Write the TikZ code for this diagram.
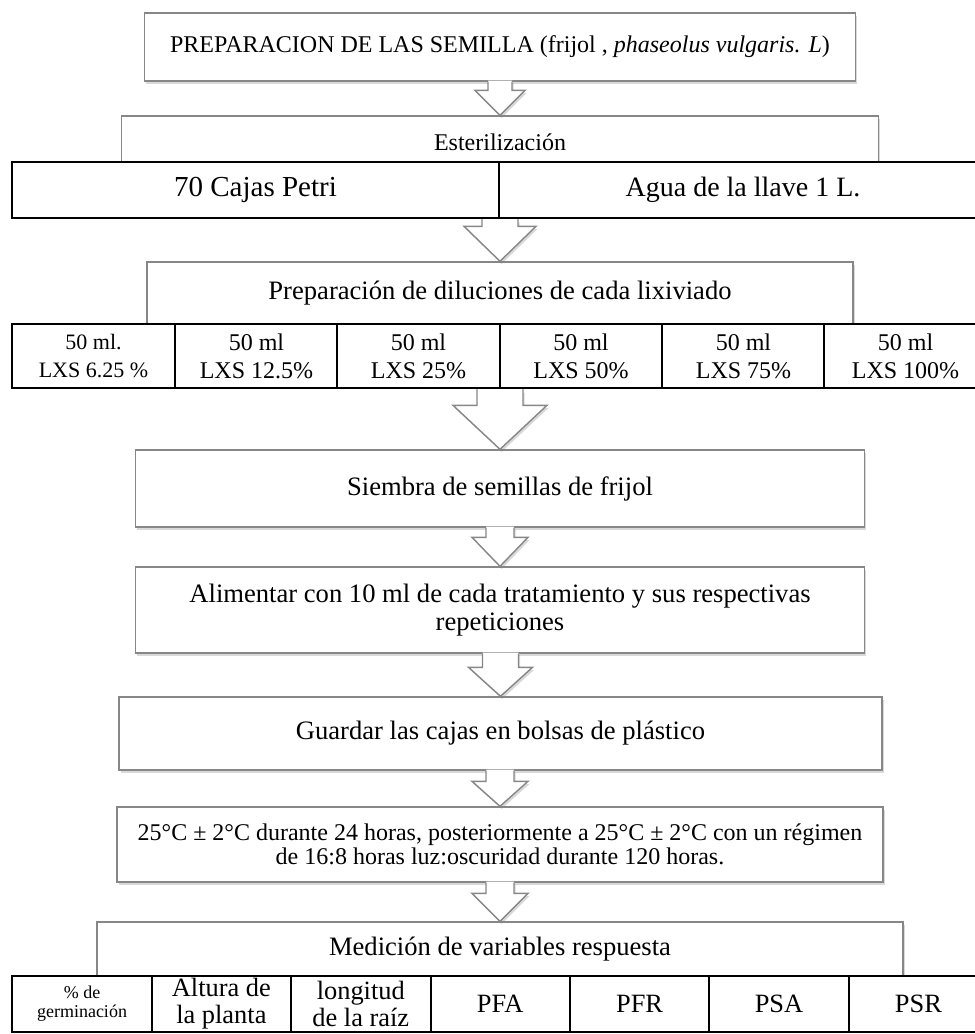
\documentclass[tikz,border=0pt]{standalone}
\usepackage{fontspec}
\setmainfont{Liberation Serif}
\usetikzlibrary{calc,shadows}

\definecolor{borde}{RGB}{135,135,135}

% flecha de bloque: [recorte] {desde} {hasta} {medio ancho tallo} {medio ancho punta} {largo punta}
\newcommand{\flecha}[6][0.6]{%
  \path[flechafondo] let \p1=(#2), \p2=(#3) in
    (\x2-#4pt,\y1+#1pt) -- (\x2-#4pt,\y2+#6pt) -- (\x2-#5pt,\y2+#6pt) -- (\x2,\y2)
    -- (\x2+#5pt,\y2+#6pt) -- (\x2+#4pt,\y2+#6pt) -- (\x2+#4pt,\y1+#1pt) -- cycle;
  \draw[flechaborde] let \p1=(#2), \p2=(#3) in
    (\x2-#4pt,\y1) -- (\x2-#4pt,\y2+#6pt) -- (\x2-#5pt,\y2+#6pt) -- (\x2,\y2)
    -- (\x2+#5pt,\y2+#6pt) -- (\x2+#4pt,\y2+#6pt) -- (\x2+#4pt,\y1);
}

\begin{document}
\begin{tikzpicture}[x=0.5pt,y=-0.5pt,
    caja/.style={draw=borde, line width=0.7pt, fill=white, inner sep=0pt, align=center,
      drop shadow={opacity=0.3, shadow xshift=0.8pt, shadow yshift=-1.3pt}},
    celda/.style={draw=black, line width=1pt, fill=white, inner sep=0pt, align=center},
    flechafondo/.style={fill=white, drop shadow={opacity=0.3, shadow xshift=0.8pt, shadow yshift=-1.3pt}},
    flechaborde/.style={draw=borde, line width=0.7pt, line join=miter},
    grande/.style={font=\fontsize{13.3}{14}\selectfont},
    normal/.style={font=\fontsize{12}{13}\selectfont}]
  \useasboundingbox (0,0) rectangle (975,1034);
  \clip (0,0) rectangle (975,1034);

  % cajas
  \node[caja, normal, minimum width=355.5pt, minimum height=34pt] (titulo) at (500,47)
    {PREPARACION DE LAS SEMILLA (frijol , \textit{phaseolus vulgaris. L})};
  \node[caja, minimum width=378.5pt, minimum height=44.5pt] (ester) at (500,160.5) {};
  \node[normal] (esterT) at (500,142) {Esterilización};
  \node[caja, minimum width=353pt, minimum height=59pt] (prep) at (500,321) {};
  \node[grande] (prepT) at (500,293) {Preparación de diluciones de cada lixiviado};
  \node[caja, grande, minimum width=364.5pt, minimum height=38.5pt] (siembra) at (500,488.5)
    {Siembra de semillas de frijol};
  \node[caja, grande, minimum width=364.5pt, minimum height=43pt] (alimentar) at (500,610)
    {Alimentar con 10 ml de cada tratamiento y sus respectivas\\repeticiones};
  \node[caja, grande, minimum width=381.5pt, minimum height=36.5pt] (guardar) at (500.5,733.5)
    {Guardar las cajas en bolsas de plástico};
  \node[caja, font=\fontsize{12}{10.5}\selectfont, minimum width=383pt, minimum height=37.5pt] (temp) at (500,844.5)
    {25°C ± 2°C durante 24 horas, posteriormente a 25°C ± 2°C con un régimen\\de 16:8 horas luz:oscuridad durante 120 horas.};
  \node[caja, minimum width=403pt, minimum height=49pt] (medicion) at (500,971) {};
  \node[grande] (medicionT) at (500,949) {Medición de variables respuesta};

  % tablas
  \node[celda, font=\fontsize{14.5}{16}\selectfont, minimum width=243.5pt, minimum height=28pt] (cA) at (255.5,190) {70 Cajas Petri};
  \node[celda, font=\fontsize{14}{16}\selectfont, minimum width=244pt, minimum height=28pt] (cB) at (743,190) {Agua de la llave 1 L.};

  \node[celda, font=\fontsize{11}{14}\selectfont, minimum width=81.5pt, minimum height=32pt] (d1) at (93.5,356) {50 ml.\\LXS 6.25 \%};
  \foreach \i/\cx/\txt in {2/256.5/12.5\%, 3/418.5/25\%, 4/581/50\%, 5/743.5/75\%, 6/905.5/100\%}
  {
    \node[celda, font=\fontsize{12}{14}\selectfont, minimum width=81.5pt, minimum height=32pt] (d\i) at (\cx,356) {50 ml\\LXS \txt};
  };

  \node[celda, font=\fontsize{9}{9.5}\selectfont, minimum width=69.7pt, minimum height=28pt] (v1) at (82,1004) {\% de\\germinación};
  \foreach \i/\txt in {2/Altura de\\la planta, 3/longitud\\de la raíz, 4/PFA, 5/PFR, 6/PSA, 7/PSR}
  {
    \node[celda, font=\fontsize{13.2}{13.5}\selectfont, minimum width=69.7pt, minimum height=28pt] (v\i) at ({82+139.4*(\i-1)},1004) {\txt};
  };

  % flechas
  \flecha{titulo.south}{ester.north}{6}{12.5}{12.5}
  \flecha[-0.5]{cA.south east}{prep.north}{9}{18}{17.5}
  \flecha[-0.5]{d3.south east}{siembra.north}{11.5}{23.5}{22}
  \flecha{siembra.south}{alimentar.north}{7}{14}{14.5}
  \flecha{alimentar.south}{guardar.north}{9}{16}{14.5}
  \flecha{guardar.south}{temp.north}{7}{14}{12.5}
  \flecha{temp.south}{medicion.north}{7}{14}{14}
\end{tikzpicture}
\end{document}
